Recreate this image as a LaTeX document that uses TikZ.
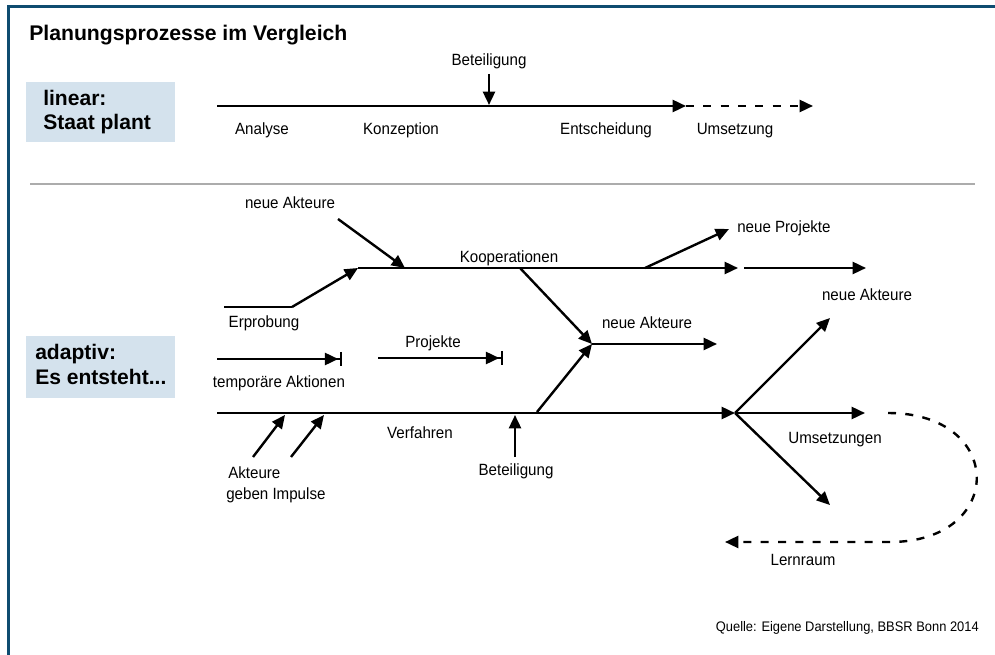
\documentclass[tikz,border=0pt]{standalone}
\usepackage{fontspec}
\setmainfont{Liberation Sans}
\newfontfamily\condfont{Liberation Sans}[FakeStretch=0.93]
\usetikzlibrary{arrows.meta}
\definecolor{framecol}{RGB}{14,76,112}
\definecolor{boxfill}{RGB}{212,226,237}
\definecolor{sepcol}{RGB}{172,172,172}
\tikzset{
  lw/.style={line width=1.8pt},
  conn/.style={lw, -{Triangle[length=10pt,width=9pt]}},
  barconn/.style={lw, -{Triangle[length=10pt,width=9pt,sep=1pt] Bar[width=10.5pt]}},
  dashconn/.style={lw, dash pattern=on 6pt off 7pt, -{Triangle[length=10pt,width=9pt]}},
  lbl/.style={font=\condfont\fontsize{12.2}{14}\selectfont, inner sep=0pt, anchor=base},
  lblw/.style={lbl, anchor=base west},
  bold/.style={font=\fontsize{15.8}{18}\selectfont\bfseries, inner sep=0pt, anchor=base west},
  src/.style={font=\condfont\fontsize{10.4}{12}\selectfont, inner sep=0pt, anchor=base east},
  boxbg/.style={fill=boxfill, draw=none},
}
\begin{document}
\begin{tikzpicture}[x=0.75pt,y=-0.75pt]
\useasboundingbox (0,0) rectangle (995,655);
\fill[white] (0,0) rectangle (995,655);
% frame
\draw[framecol, line width=2.2pt] (995,6.5) -- (8.5,6.5) -- (8.5,655);
% title
\node[bold, font=\fontsize{15.9}{18}\selectfont\bfseries] (title) at (29,41) {Planungsprozesse im Vergleich};

% ===== linear =====
\fill[boxbg] (26,82) rectangle (175,142);
\node[bold] (lin1) at (43,106) {linear:};
\node[bold] (lin2) at (43,130) {Staat plant};

\coordinate (L0) at (217,106);
\coordinate (L1) at (686,106);
\coordinate (L2) at (813,106);
\draw[conn] (L0) -- (L1);
\draw[dashconn] (L1) -- (L2);
\node[lbl] (bet1) at (489,66) {Beteiligung};
\coordinate (B0) at (489,74);
\coordinate (B1) at (489,105);
\draw[conn] (B0) -- (B1);
\node[lbl] (ana) at (262,135) {Analyse};
\node[lbl] (kon) at (401,135) {Konzeption};
\node[lbl] (ent) at (606,135) {Entscheidung};
\node[lbl] (ums) at (735,135) {Umsetzung};

% separator
\coordinate (S0) at (30,184);
\coordinate (S1) at (975,184);
\draw[sepcol, line width=1.1pt] (S0) -- (S1);

% ===== adaptiv =====
\fill[boxbg] (26,336) rectangle (175,398);
\node[bold] (ad1) at (35,360) {adaptiv:};
\node[bold] (ad2) at (35,385) {Es entsteht...};

% Kooperationen branch
\node[lbl] (na1) at (290,209) {neue Akteure};
\coordinate (NA0) at (338,219);
\coordinate (NA1) at (405,268);
\draw[conn] (NA0) -- (NA1);
\coordinate (E0) at (224,307);
\coordinate (E1) at (292,307);
\coordinate (K0) at (358,268);
\coordinate (K1) at (738,268);
\draw[lw] (E0) -- (E1);
\draw[conn] (E1) -- (K0);
\draw[conn] (K0) -- (K1);
\node[lbl] (erp) at (264,328) {Erprobung};
\node[lbl] (koop) at (509,263) {Kooperationen};
\coordinate (NP0) at (645,268);
\coordinate (NP1) at (729,229);
\draw[conn] (NP0) -- (NP1);
\node[lblw] (np) at (737,233) {neue Projekte};
\coordinate (R0) at (744,268);
\coordinate (R1) at (866,268);
\draw[conn] (R0) -- (R1);
\node[lbl] (na3) at (867,301) {neue Akteure};

% middle junction
\coordinate (K2) at (520,268);
\coordinate (J1) at (592,344);
\coordinate (J1e) at (717,344);
\coordinate (V1) at (537,412);
\draw[conn] (K2) -- (J1);
\draw[conn] (V1) -- (J1);
\draw[conn] (J1) -- (J1e);
\node[lbl] (na2) at (647,329) {neue Akteure};

% temporary actions, projects
\coordinate (T0) at (217,359);
\coordinate (T1) at (342,359);
\draw[barconn] (T0) -- (T1);
\node[lbl] (temp) at (279,388) {temporäre Aktionen};
\coordinate (P0) at (378,358);
\coordinate (P1) at (503,358);
\draw[barconn] (P0) -- (P1);
\node[lbl] (proj) at (433,348) {Projekte};

% Verfahren
\coordinate (V0) at (217,413);
\coordinate (J2) at (735,413);
\draw[conn] (V0) -- (J2);
\node[lbl] (verf) at (420,438) {Verfahren};
\coordinate (A1s) at (253,457);
\coordinate (A1e) at (285,415);
\coordinate (A2s) at (291,457);
\coordinate (A2e) at (324,415);
\draw[conn] (A1s) -- (A1e);
\draw[conn] (A2s) -- (A2e);
\node[lblw] (akt1) at (228,478) {Akteure};
\node[lblw] (akt2) at (226,499) {geben Impulse};
\coordinate (BB0) at (515,457);
\coordinate (BB1) at (515,415);
\draw[conn] (BB0) -- (BB1);
\node[lbl] (bet2) at (516,475) {Beteiligung};

% right junction
\coordinate (NA2) at (830,318);
\coordinate (U1) at (865,413);
\coordinate (D1) at (830,505);
\draw[conn] (J2) -- (NA2);
\draw[conn] (J2) -- (U1);
\draw[conn] (J2) -- (D1);
\node[lbl] (umsn) at (835,443) {Umsetzungen};

% learning loop
\coordinate (C0) at (888,413);
\coordinate (C1) at (890,542);
\coordinate (C2) at (725,542);
\draw[dashconn] (C0) .. controls (1006,413) and (1006,542) .. (C1) -- (C2);
\node[lbl] (lern) at (803,565) {Lernraum};

% source
\node[src] (quelle) at (979,631) {Quelle: Eigene Darstellung, BBSR Bonn 2014};
\end{tikzpicture}
\end{document}
